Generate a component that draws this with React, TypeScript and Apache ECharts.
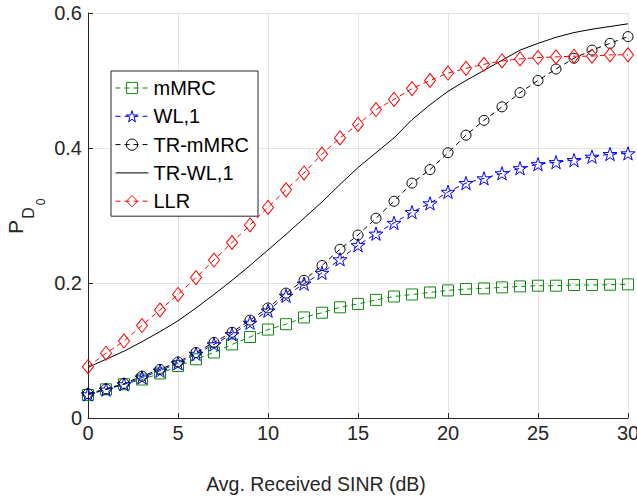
import React, { useEffect, useRef } from "react";
import * as echarts from "echarts";

const sinr = [0, 1, 2, 3, 4, 5, 6, 7, 8, 9, 10, 11, 12, 13, 14, 15, 16, 17, 18, 19, 20, 21, 22, 23, 24, 25, 26, 27, 28, 29, 30];

const mMRC = [0.034, 0.0425, 0.05, 0.057, 0.066, 0.077, 0.087, 0.097, 0.109, 0.12, 0.131, 0.139, 0.149, 0.156, 0.164, 0.169, 0.175, 0.18, 0.183, 0.186, 0.189, 0.191, 0.192, 0.1935, 0.195, 0.196, 0.196, 0.197, 0.197, 0.1975, 0.198];
const wl1 = [0.035, 0.042, 0.05, 0.06, 0.07, 0.081, 0.095, 0.109, 0.124, 0.141, 0.159, 0.181, 0.199, 0.215, 0.235, 0.256, 0.273, 0.289, 0.305, 0.318, 0.335, 0.348, 0.355, 0.3625, 0.37, 0.376, 0.379, 0.382, 0.387, 0.391, 0.392];
const trMMRC = [0.036, 0.043, 0.051, 0.062, 0.072, 0.083, 0.097, 0.112, 0.127, 0.145, 0.163, 0.185, 0.204, 0.226, 0.25, 0.271, 0.296, 0.321, 0.348, 0.368, 0.393, 0.419, 0.441, 0.461, 0.482, 0.5, 0.517, 0.533, 0.545, 0.555, 0.565];
const trWL1 = [0.075, 0.087, 0.099, 0.113, 0.128, 0.144, 0.163, 0.183, 0.204, 0.226, 0.249, 0.272, 0.296, 0.32, 0.346, 0.371, 0.393, 0.415, 0.442, 0.464, 0.484, 0.5, 0.515, 0.53, 0.545, 0.555, 0.564, 0.571, 0.576, 0.58, 0.584];
const llr = [0.076, 0.096, 0.114, 0.137, 0.16, 0.183, 0.208, 0.234, 0.26, 0.286, 0.312, 0.338, 0.363, 0.391, 0.415, 0.435, 0.457, 0.472, 0.488, 0.5, 0.511, 0.518, 0.524, 0.529, 0.532, 0.534, 0.535, 0.536, 0.536, 0.538, 0.538];

const seriesNames = ["mMRC", "WL,1", "TR-mMRC", "TR-WL,1", "LLR"];
const xTitle = "Avg. Received SINR (dB)";

const STAR = "path://M50 0 L61.23 34.55 L97.55 34.55 L68.17 55.9 L79.39 90.45 L50 69.1 L20.61 90.45 L31.83 55.9 L2.45 34.55 L38.77 34.55 Z";
const FONT = "'Liberation Sans', Arial, Helvetica, sans-serif";
const AXIS_COLOR = "#262626";

function pairs(vals: number[]) {
  return sinr.map((x, i) => [x, vals[i]]);
}

export default function App() {
  const ref = useRef<HTMLDivElement>(null);
  useEffect(() => {
    document.body.style.margin = "0";
    const chart = echarts.init(ref.current!, null, { renderer: "svg" });
    const dash = [5, 4];
    const mk = (name: string, vals: number[], color: string, symbol: string, size: any, dashed: boolean, hidden = false) => ({
      type: "line",
      name,
      data: pairs(vals),
      symbol,
      symbolSize: size,
      symbolKeepAspect: true,
      showSymbol: !hidden,
      lineStyle: { color, width: 1, type: dashed ? dash : "solid" },
      itemStyle: hidden
        ? { color: "transparent", borderColor: "transparent", borderWidth: 0 }
        : { color: "transparent", borderColor: color, borderWidth: 1 },
      emphasis: { disabled: true },
      z: 2,
    });
    chart.setOption({
      animation: false,
      backgroundColor: "#ffffff",
      textStyle: { fontFamily: FONT },
      grid: { left: 88, right: 9, top: 13, bottom: 83, outerBoundsMode: "none" },
      xAxis: {
        type: "value",
        min: 0,
        max: 30,
        interval: 5,
        axisLine: { show: true, onZero: false, lineStyle: { color: AXIS_COLOR, width: 1 } },
        axisTick: { show: true, inside: true, length: 5, lineStyle: { color: AXIS_COLOR } },
        axisLabel: { color: AXIS_COLOR, fontSize: 20, fontFamily: FONT, margin: 5 },
        splitLine: { show: true, lineStyle: { color: "#e3e3e3", width: 1 } },
      },
      yAxis: {
        type: "value",
        min: 0,
        max: 0.6,
        interval: 0.2,
        axisLine: { show: true, onZero: false, lineStyle: { color: AXIS_COLOR, width: 1 } },
        axisTick: { show: true, inside: true, length: 5, lineStyle: { color: AXIS_COLOR } },
        axisLabel: { color: AXIS_COLOR, fontSize: 20, fontFamily: FONT, margin: 6 },
        splitLine: { show: true, lineStyle: { color: "#e3e3e3", width: 1 } },
      },
      legend: {
        orient: "vertical",
        left: 111,
        top: 71,
        data: seriesNames,
        itemWidth: 33,
        itemHeight: 14,
        itemGap: 8.3,
        padding: [7, 9, 5, 4],
        borderColor: AXIS_COLOR,
        borderWidth: 1,
        backgroundColor: "#ffffff",
        selectedMode: false,
        itemStyle: { borderWidth: 1 },
        lineStyle: { width: 1 },
        textStyle: { fontSize: 20, color: "#000000", fontFamily: FONT, lineHeight: 20 },
      },
      series: [
        mk(seriesNames[0], mMRC, "#118a11", "rect", 11, true),
        mk(seriesNames[1], wl1, "#0000ff", STAR, 14, true),
        mk(seriesNames[2], trMMRC, "#000000", "circle", 10, true),
        mk(seriesNames[3], trWL1, "#000000", "circle", 1, false, true),
        mk(seriesNames[4], llr, "#ff0000", "diamond", [11, 14], true),
      ],
      graphic: [
        {
          type: "text",
          x: 316,
          y: 484,
          style: { text: xTitle, fontSize: 19.5, fontFamily: FONT, fill: AXIS_COLOR, align: "center", verticalAlign: "middle" },
        },
        {
          type: "text",
          x: 15.5,
          y: 227,
          rotation: Math.PI / 2,
          style: { text: "P", fontSize: 21, fontFamily: FONT, fill: AXIS_COLOR, align: "center", verticalAlign: "middle" },
        },
        {
          type: "text",
          x: 28.5,
          y: 213,
          rotation: Math.PI / 2,
          style: { text: "D", fontSize: 16, fontFamily: FONT, fill: AXIS_COLOR, align: "center", verticalAlign: "middle" },
        },
        {
          type: "text",
          x: 40.5,
          y: 202,
          rotation: Math.PI / 2,
          style: { text: "0", fontSize: 12, fontFamily: FONT, fill: AXIS_COLOR, align: "center", verticalAlign: "middle" },
        },
      ],
    });
    return () => chart.dispose();
  }, []);
  return <div ref={ref} style={{ width: 637, height: 501 }} />;
}
